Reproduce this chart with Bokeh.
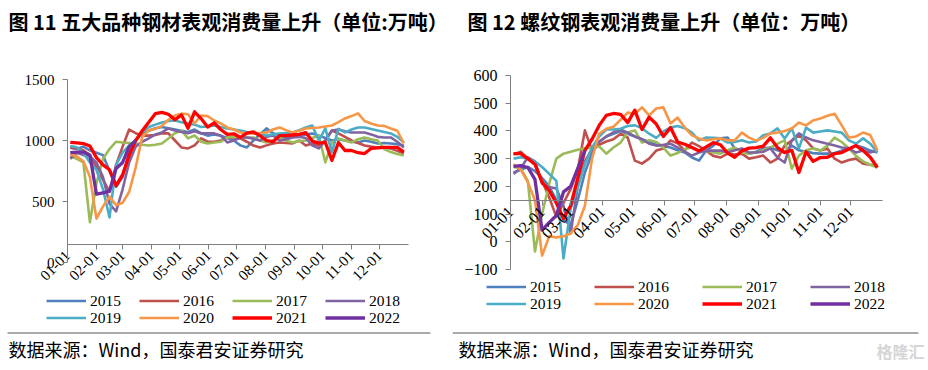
import math
from bokeh.plotting import figure
from bokeh.models import Label, Legend, LegendItem, FixedTicker, BoxAnnotation
from bokeh.layouts import row
from bokeh.embed import file_html
from bokeh.resources import INLINE

# ---------------- data ----------------
WEEK_DAYS = [3, 10, 17, 24, 31, 38, 45, 52, 59, 66, 73, 80, 87, 94, 101, 108, 115, 122, 129, 136,
             143, 150, 157, 164, 171, 178, 185, 192, 199, 206, 213, 220, 227, 234, 241, 248, 255, 262,
             269, 276, 283, 290, 297, 304, 311, 318, 325, 332, 339, 346, 353, 360]
MONTH_TICKS = [0, 31, 59, 90, 120, 151, 181, 212, 243, 273, 304, 334]
MONTH_LABELS = ["01-01", "02-01", "03-01", "04-01", "05-01", "06-01",
                "07-01", "08-01", "09-01", "10-01", "11-01", "12-01"]
YEARS = ["2015", "2016", "2017", "2018", "2019", "2020", "2021", "2022"]

# 图11 五大品种钢材表观消费量 (万吨)
L2015 = [940, 930, 950, 920, 900, 880, 750, 620, 700, 900, 1000, 1060, 1080, 1100, 1110, 1100, 1090, 1080, 1070, 1090,
         1060, 1040, 1050, 1040, 1020, 1000, 960, 943, 1000, 1050, 1099, 1060, 1040, 1025, 1030, 1040, 1050, 1058,
         1040, 1020, 1000, 1010, 1000, 990, 984, 1000, 990, 976, 980, 976, 970, 959]
L2016 = [940, 935, 920, 880, 780, 680, 580, 800, 950, 1090, 1060, 1040, 1040, 1045, 1060, 1058, 1000, 943, 935, 960,
         1017, 990, 990, 1000, 1025, 1020, 1017, 990, 959, 943, 960, 976, 984, 980, 976, 1000, 959, 976,
         960, 1000, 1082, 1058, 1030, 1000, 980, 959, 950, 943, 940, 935, 915, 893]
L2017 = [870, 850, 820, 330, 650, 850, 930, 990, 984, 980, 976, 965, 959, 965, 976, 1017, 1060, 1082, 1017, 1041,
         990, 976, 984, 990, 1025, 1030, 1025, 1025, 1025, 1000, 984, 1000, 1025, 1000, 984, 995, 1000, 1020,
         1041, 820, 984, 1017, 1000, 984, 1010, 1025, 1010, 1000, 930, 905, 890, 877]
L2018 = [850, 900, 880, 870, 820, 700, 480, 420, 600, 820, 950, 990, 1017, 1050, 1066, 1099, 1082, 1070, 1060, 1075,
         1058, 1060, 1058, 1040, 984, 1000, 1025, 1025, 1015, 1000, 1030, 1041, 1000, 1010, 1025, 1030, 1020, 960,
         935, 1000, 1082, 1090, 1075, 1066, 1066, 1066, 1050, 1030, 1025, 1025, 990, 943]
L2019 = [955, 945, 900, 820, 760, 600, 370, 800, 900, 960, 1000, 1066, 1110, 1130, 1148, 1160, 1164, 1150, 1140, 1130,
         1110, 1115, 1123, 1110, 1099, 1090, 1082, 1070, 1058, 1050, 1041, 1050, 1058, 1062, 1066, 1085, 1107, 1123,
         1000, 1099, 902, 1095, 1066, 1090, 1107, 1107, 1095, 1082, 1070, 1058, 1030, 984]
L2020 = [885, 870, 830, 700, 360, 460, 540, 470, 490, 580, 780, 1030, 1085, 1095, 1120, 1170, 1205, 1220, 1215, 1140,
         1205, 1200, 1164, 1140, 1107, 1090, 1066, 1060, 1058, 1062, 1066, 1090, 1107, 1085, 1066, 1080, 1099, 1103,
         1107, 1115, 1123, 1150, 1181, 1200, 1222, 1160, 1140, 1123, 1120, 1099, 1080, 976]
L2021 = [985, 980, 975, 955, 860, 800, 760, 630, 720, 880, 1000, 1080, 1150, 1220, 1230, 1215, 1170, 1210, 1100, 1235,
         1180, 1110, 1145, 1090, 1050, 1055, 1025, 1060, 1070, 1040, 1000, 990, 1040, 1040, 1045, 1050, 1065, 995,
         978, 984, 836, 984, 918, 918, 900, 893, 935, 940, 943, 943, 943, 905]
L2022 = [900, 905, 905, 880, 560, 570, 585, 770, 820, 950, 1000]

# 图12 螺纹钢表观消费量 (万吨)
R2015 = [250, 260, 270, 255, 230, 200, 150, 80, 60, 150, 250, 320, 360, 380, 390, 400, 390, 380, 370, 360,
         350, 345, 340, 330, 322, 304, 293, 329, 347, 373, 376, 337, 330, 318, 325, 337, 340, 330,
         322, 347, 330, 325, 320, 318, 318, 320, 329, 335, 347, 340, 329, 322]
R2016 = [315, 325, 300, 280, 220, 160, 90, 140, 190, 260, 402, 329, 350, 362, 370, 390, 376, 293, 282, 300,
         329, 337, 366, 355, 330, 358, 345, 329, 310, 304, 318, 315, 318, 300, 305, 311, 286, 300,
         347, 365, 384, 366, 337, 329, 337, 300, 286, 295, 300, 282, 278, 275]
R2017 = [270, 265, 220, -35, 100, 210, 300, 318, 325, 332, 337, 340, 344, 318, 340, 358, 394, 402, 358, 366,
         360, 340, 311, 320, 335, 340, 330, 329, 322, 318, 330, 340, 322, 318, 322, 330, 340, 354,
         366, 264, 311, 330, 337, 329, 347, 376, 360, 337, 310, 290, 278, 268]
R2018 = [245, 265, 305, 290, 210, 198, 192, 130, 30, 200, 290, 335, 362, 380, 395, 405, 394, 380, 370, 354,
         347, 350, 354, 340, 325, 311, 322, 329, 329, 329, 322, 330, 337, 322, 322, 325, 337, 304,
         286, 366, 391, 376, 366, 360, 354, 347, 340, 337, 322, 329, 322, 330]
R2019 = [300, 305, 300, 290, 270, 245, 220, -60, 120, 196, 280, 340, 380, 405, 405, 408, 418, 420, 410, 390,
         375, 398, 412, 418, 410, 394, 366, 376, 375, 373, 358, 360, 366, 358, 362, 384, 391, 409,
         373, 409, 337, 412, 394, 398, 402, 398, 394, 366, 354, 373, 354, 322]
R2020 = [280, 260, 215, 150, -50, 20, 16, 20, 30, 60, 130, 300, 390, 408, 415, 440, 466, 462, 485, 456,
         481, 485, 427, 448, 412, 384, 373, 366, 370, 373, 366, 366, 394, 376, 365, 375, 391, 394,
         400, 409, 430, 420, 438, 445, 455, 462, 420, 376, 380, 394, 385, 330]
R2021 = [318, 318, 300, 280, 214, 185, 140, 84, 130, 230, 330, 370, 420, 456, 463, 460, 430, 475, 405, 450,
         425, 380, 412, 360, 352, 340, 328, 342, 358, 350, 320, 305, 328, 338, 340, 345, 375, 340,
         322, 330, 250, 325, 290, 304, 305, 318, 322, 335, 347, 329, 305, 268]
R2022 = [272, 275, 268, 225, 42, 70, 95, 180, 200, 265, 330]

LEFT_SERIES = [L2015, L2016, L2017, L2018, L2019, L2020, L2021, L2022]
RIGHT_SERIES = [R2015, R2016, R2017, R2018, R2019, R2020, R2021, R2022]
LEFT_YTICKS = [0, 500, 1000, 1500]
RIGHT_YTICKS = [-100, 0, 100, 200, 300, 400, 500, 600]
X_CROSS = 150  # horizontal axis crosses the value axis here

# ---------------- styles ----------------
COLORS = ["#4F81BD", "#C0504D", "#9BBB59", "#8064A2", "#4BACC6", "#F79646", "#FF0000", "#7030A0"]
WIDTHS = [2.6, 2.6, 2.6, 2.6, 2.6, 2.6, 3.3, 3.3]
AXIS_COLOR = "#7f7f7f"
SERIF = "Liberation Serif"
CJK = "Noto Sans CJK SC"
FIG_H = 370


def make_panel(series, ylim, yticks, width, plot_box, title, title_pos, title_size, src_pos, sep,
               leg_pos, leg_spacing, tick_size):
    # plot_box: (left, right, top, bottom) pixel positions of the value window inside the figure
    pl, pr, pt, pb = plot_box
    x0, x1 = 0, 365
    y0, y1 = ylim
    kx = (x1 - x0) / (pr - pl)
    ky = (y1 - y0) / (pb - pt)
    xr = (x0 - pl * kx, x1 + (width - pr) * kx)
    yr = (y0 - (FIG_H - pb) * ky, y1 + pt * ky)

    p = figure(width=width, height=FIG_H, x_range=xr, y_range=yr,
               output_backend="svg", toolbar_location=None, min_border=0)
    p.outline_line_color = None
    p.grid.visible = False
    p.background_fill_color = "white"
    p.border_fill_color = "white"

    renderers = []
    for vals, c, w in zip(series, COLORS, WIDTHS):
        r = p.line(WEEK_DAYS[:len(vals)], vals, line_color=c, line_width=w, line_join="round")
        renderers.append(r)

    xa = p.xaxis[0]
    xa.ticker = FixedTicker(ticks=MONTH_TICKS)
    xa.major_label_overrides = {t: lab for t, lab in zip(MONTH_TICKS, MONTH_LABELS)}
    xa.major_label_orientation = math.pi / 4
    xa.fixed_location = X_CROSS
    xa.bounds = (x0, x1)
    xa.minor_tick_line_color = None
    xa.major_tick_in = 0
    xa.major_tick_out = 5
    xa.axis_line_color = AXIS_COLOR
    xa.major_tick_line_color = AXIS_COLOR
    xa.major_label_text_font = SERIF
    xa.major_label_text_font_size = tick_size
    xa.major_label_text_color = "black"
    xa.major_label_standoff = 4

    ya = p.yaxis[0]
    ya.ticker = FixedTicker(ticks=yticks)
    ya.fixed_location = x0
    ya.bounds = (y0, y1)
    ya.minor_tick_line_color = None
    ya.major_tick_in = 0
    ya.major_tick_out = 5
    ya.axis_line_color = AXIS_COLOR
    ya.major_tick_line_color = AXIS_COLOR
    ya.major_label_text_font = SERIF
    ya.major_label_text_font_size = tick_size
    ya.major_label_text_color = "black"
    ya.major_label_standoff = 8

    for rowi in range(2):
        items = [LegendItem(label=YEARS[i], renderers=[renderers[i]]) for i in range(rowi * 4, rowi * 4 + 4)]
        leg = Legend(items=items, orientation="horizontal", location=leg_pos[rowi],
                     glyph_width=40, glyph_height=17, label_height=17, label_width=40,
                     label_standoff=4, spacing=leg_spacing, padding=0, margin=0,
                     border_line_color=None, background_fill_alpha=0,
                     label_text_font=SERIF, label_text_font_size="15.5px", label_text_color="black")
        p.add_layout(leg)

    p.add_layout(Label(x=title_pos[0], y=title_pos[1], x_units="screen", y_units="screen", text=title,
                       text_font=CJK, text_font_style="bold", text_font_size=title_size,
                       text_baseline="middle", text_align="left", text_color="black"))
    p.add_layout(BoxAnnotation(left=sep[0], right=sep[1], top=sep[2], bottom=sep[2] - 1,
                               left_units="screen", right_units="screen",
                               top_units="screen", bottom_units="screen",
                               fill_color="#595959", fill_alpha=1, line_color=None))
    p.add_layout(Label(x=src_pos[0], y=src_pos[1], x_units="screen", y_units="screen",
                       text="数据来源：Wind，国泰君安证券研究",
                       text_font=CJK, text_font_size="18px", text_baseline="middle",
                       text_align="left", text_color="black"))
    return p


# screen positions: x from figure left, y from figure bottom
p1 = make_panel(LEFT_SERIES, (0, 1500), LEFT_YTICKS, 452, (67, 408, 79, 262),
                "图 11 五大品种钢材表观消费量上升（单位:万吨）", (8, 349), "20px", (8, 21.5),
                (7, 430, 38), [(46, 60.5), (46, 43.5)], 9, "15px")
p2 = make_panel(RIGHT_SERIES, (-100, 600), RIGHT_YTICKS, 476, (58, 430, 75, 269),
                "图 12 螺纹钢表观消费量上升（单位：万吨）", (15, 349), "20px", (6, 21.5),
                (0, 466, 38), [(34, 74.5), (34, 57.5)], 24, "16px")
p2.add_layout(Label(x=424, y=20, x_units="screen", y_units="screen", text="格隆汇",
                    text_font=CJK, text_font_size="16px", text_font_style="bold",
                    text_color="#d5d5d5", text_baseline="middle"))

layout = row(p1, p2)
open("out.html", "w").write(file_html(layout, INLINE))
